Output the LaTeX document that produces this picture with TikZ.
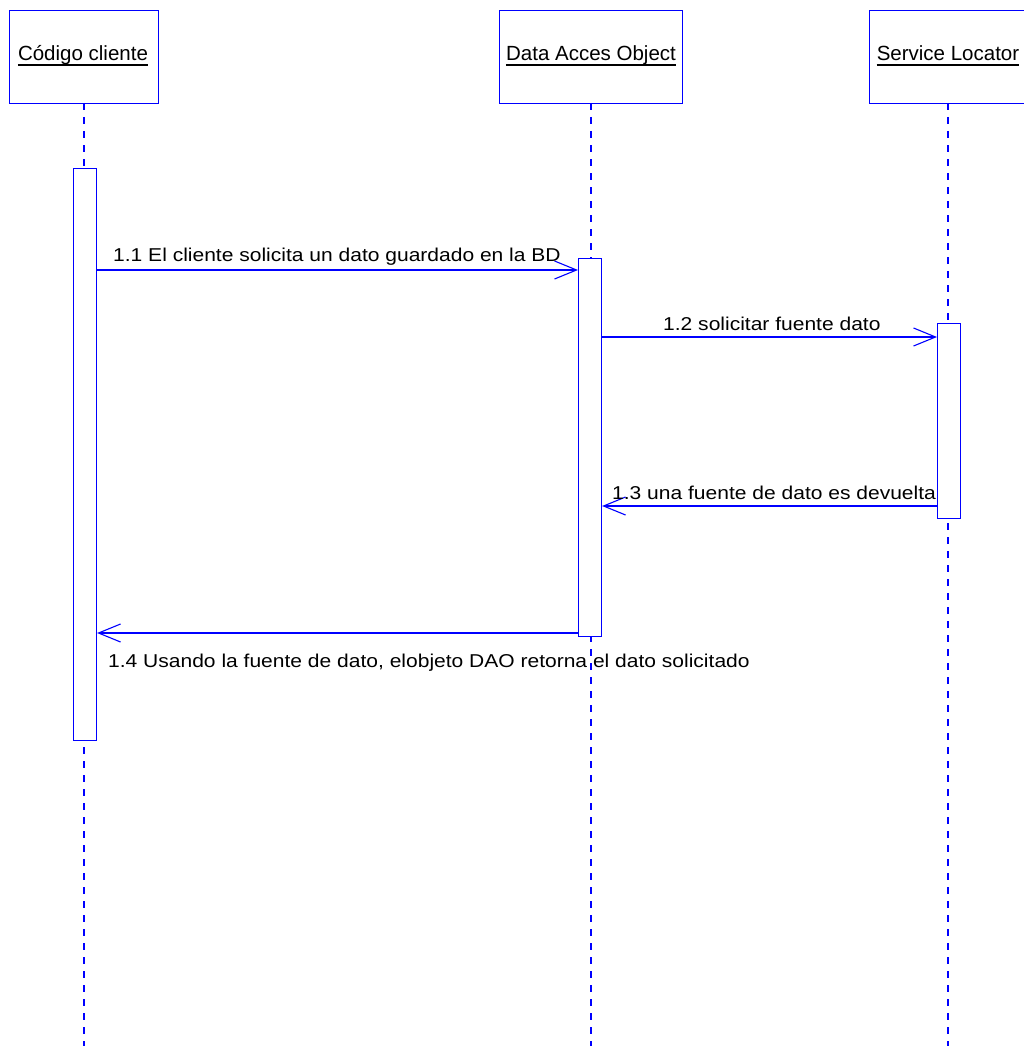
\documentclass[tikz,border=0pt]{standalone}
\usepackage{fontspec}
\setmainfont{Liberation Sans}
\usetikzlibrary{arrows.meta}
\newcommand{\msgtext}[1]{\scalebox{1.13}[1]{\fontsize{18.6}{21}\selectfont #1}}
\begin{document}
\begin{tikzpicture}[x=1pt,y=-1pt,
  uml/.style={draw=blue,line width=1.1pt},
  obj/.style={uml,fill=white,minimum height=93pt,anchor=north west,inner sep=0pt},
  life/.style={blue,line width=1.1pt,dash pattern=on 7pt off 7pt},
  act/.style={uml,fill=white,anchor=north west,minimum width=23pt,inner sep=0pt},
  msg/.style={blue,line width=1.1pt,-{Straight Barb[length=22pt,width=18pt,line width=1.1pt]}},
  lbl/.style={inner sep=0pt,anchor=base west},
  ttl/.style={font=\fontsize{20.5}{24}\selectfont,inner sep=0pt,anchor=base}]
\useasboundingbox (0,0) rectangle (1023,1046);
% object boxes
\node[obj,minimum width=149pt] (cc) at (9,10) {};
\node[obj,minimum width=183pt] (dao) at (499,10) {};
\node[obj,minimum width=156pt] (sl) at (869,10) {};
% lifelines
\coordinate (ccb) at (84,1046);
\coordinate (daob) at (591,1046);
\coordinate (slb) at (948,1046);
\draw[life] (84,103) -- (ccb);
\draw[life] (591,103) -- (daob);
\draw[life] (948,103) -- (slb);
% titles
\node[ttl] (tcc) at (83,61) {Código cliente};
\node[ttl] (tdao) at (591,61) {Data Acces Object};
\node[ttl] (tsl) at (948,61) {Service Locator};
\foreach \t in {tcc,tdao,tsl}
  \draw[line width=1.8pt] ([yshift=-4pt]\t.base west) -- ([yshift=-4pt]\t.base east);
% activations
\node[act,minimum height=572pt] (acc) at (73,168) {};
\node[act,minimum height=378pt] (adao) at (578,258) {};
\node[act,minimum height=195pt] (asl) at (937,323) {};
% messages
\draw[msg] (acc.east |- 0,270) -- (adao.west |- 0,270);
\draw[msg] (adao.east |- 0,337) -- (asl.west |- 0,337);
\draw[msg] (asl.west |- 0,506) -- (adao.east |- 0,506);
\draw[msg] (adao.west |- 0,633) -- (acc.east |- 0,633);
% message labels
\node[lbl] (l1) at (113,261) {\msgtext{1.1 El cliente solicita un dato guardado en la BD}};
\node[lbl] (l2) at (663,330) {\msgtext{1.2 solicitar fuente dato}};
\node[lbl] (l3) at (612,499) {\msgtext{1.3 una fuente de dato es devuelta}};
\node[lbl] (l4) at (108,667) {\msgtext{1.4 Usando la fuente de dato, elobjeto DAO retorna el dato solicitado}};
\end{tikzpicture}
\end{document}
